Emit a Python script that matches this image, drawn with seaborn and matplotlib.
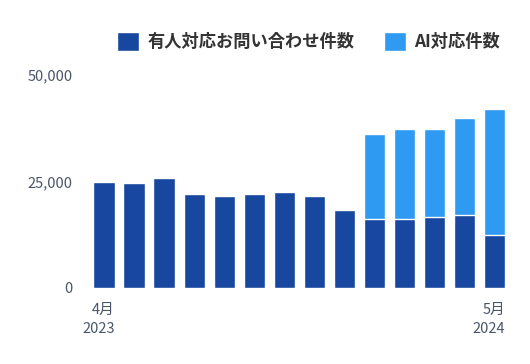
import pandas as pd
import matplotlib
matplotlib.use('Agg')
import matplotlib.pyplot as plt
import seaborn as sns

# данные
months = ['2023-04', '2023-05', '2023-06', '2023-07', '2023-08', '2023-09', '2023-10',
          '2023-11', '2023-12', '2024-01', '2024-02', '2024-03', '2024-04', '2024-05']
human = [24950, 24570, 25820, 21990, 21600, 21990, 22460,
         21600, 18310, 16270, 16270, 16670, 17060, 12520]
ai = [0, 0, 0, 0, 0, 0, 0, 0, 0, 19880, 21050, 20650, 22770, 29420]
tick_labels = ['4月\n2023', '5月\n2024']
legend_labels = ['有人対応お問い合わせ件数', 'AI対応件数']

dark = '#17479E'
light = '#2E9AF2'

df = pd.DataFrame({'month': months, 'human': human, 'ai': ai})
df['total'] = df['human'] + df['ai']

sns.set_theme(style='white')
plt.rcParams['font.family'] = ['Noto Sans CJK JP', 'DejaVu Sans']

fig = plt.figure(figsize=(5.3, 3.64), dpi=100)
ax = fig.add_axes([0.168, 0.2088, 0.7937, 0.5852])

sns.barplot(data=df, x='month', y='total', color=light, saturation=1,
            width=0.71, ax=ax, label=legend_labels[1])
sns.barplot(data=df, x='month', y='human', color=dark, saturation=1,
            width=0.71, ax=ax, label=legend_labels[0])

ax.set_xlim(-0.5, len(months) - 0.5)
ax.set_ylim(0, 50000)
ax.set_yticks([0, 25000, 50000])
ax.set_yticklabels(['0', '25,000', '50,000'])
ax.set_xticks([0.35, len(months) - 1 + 0.35])
ax.set_xticklabels(tick_labels, ha='right', linespacing=1.45)
ax.tick_params(axis='both', length=0, labelsize=10.5, labelcolor='#4a5568')
ax.tick_params(axis='y', pad=12)
ax.tick_params(axis='x', pad=11)
ax.set_xlabel('')
ax.set_ylabel('')
sns.despine(ax=ax, left=True, bottom=True)

handles, labels = ax.get_legend_handles_labels()
order = [labels.index(legend_labels[0]), labels.index(legend_labels[1])]
leg = ax.legend([handles[i] for i in order], [labels[i] for i in order],
                ncol=2, loc='center right', bbox_to_anchor=(0.96, 0.885),
                bbox_transform=fig.transFigure, frameon=False,
                handlelength=1.25, handleheight=1.25, handletextpad=0.5,
                columnspacing=1.75, borderpad=0,
                prop={'size': 12.4, 'weight': 'bold'})
for t in leg.get_texts():
    t.set_color('#333333')

fig.savefig('out.png', dpi=100)
